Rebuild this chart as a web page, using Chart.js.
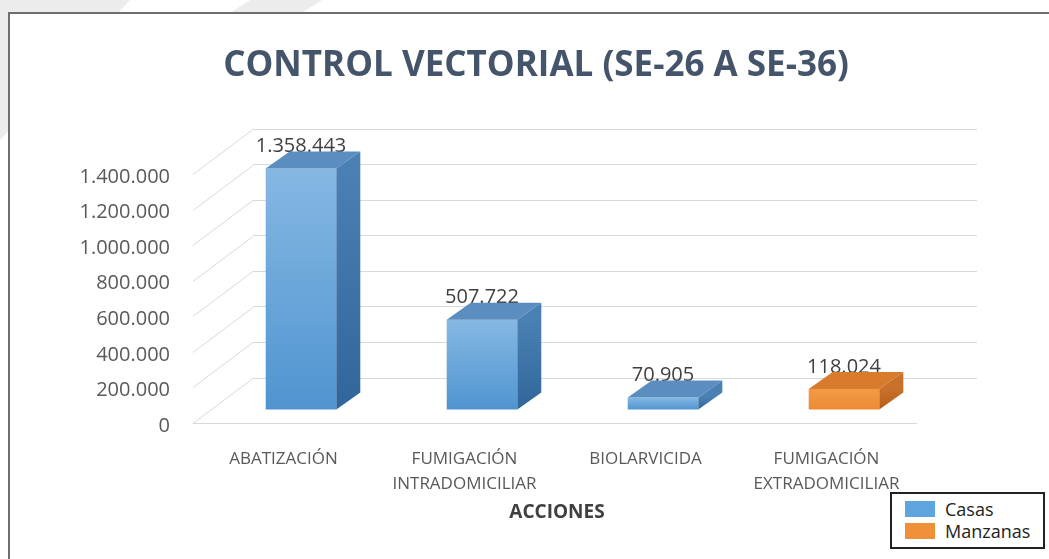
<!DOCTYPE html>
<html>
<head>
<meta charset="utf-8">
<title>Control vectorial</title>
<script src="https://cdn.jsdelivr.net/npm/chart.js@4.4.1/dist/chart.umd.min.js"></script>
<style>
    html, body { margin: 0; padding: 0; background: #fff; }
    body { width: 1049px; height: 559px; position: relative; overflow: hidden; font-family: 'Open Sans', sans-serif; }
    .shade { position: absolute; background: #ececec; }
    #wedge1 { left: 0; top: 0; width: 130px; height: 140px; clip-path: polygon(0 0, 100% 0, 0 100%); }
    #wedge2 { left: 230px; top: 0; width: 92px; height: 13px; clip-path: polygon(22% 0, 100% 0, 78% 100%, 0 100%); }
    #frame { position: absolute; left: 8px; top: 12px; width: 1060px; height: 560px; border-left: 2px solid #6e6e6e; border-top: 2px solid #6e6e6e; background: #fff; }
    #chart { position: absolute; left: 0; top: 0; }
    #legend { position: absolute; left: 890px; top: 492px; width: 151px; height: 53px; border: 2px solid #222; background: #fff; color: #222; font-size: 18px; }
    #legend .item { position: absolute; left: 13px; height: 22px; display: flex; align-items: center; }
    #legend .swatch { width: 30px; height: 16px; margin-right: 10px; }
</style>
</head>
<body>
<div class="shade" id="wedge1"></div>
<div class="shade" id="wedge2"></div>
<div id="frame"></div>
<canvas id="chart" width="1049" height="559"></canvas>
<div id="legend"></div>

<script>
// ===== Data =====
const categories = [
    ['ABATIZACIÓN'],
    ['FUMIGACIÓN', 'INTRADOMICILIAR'],
    ['BIOLARVICIDA'],
    ['FUMIGACIÓN', 'EXTRADOMICILIAR']
];
const casasValues = [1358443, 507722, 70905, null];
const manzanasValues = [null, null, null, 118024];
const yMax = 1400000;
const yStep = 200000;

// ===== Look =====
const casasLook = { light: '#86b8e3', dark: '#4f94d0', side: ['#4a80b3', '#306699'], top: '#5b8dc1', legend: '#5ea5df' };
const manzanasLook = { light: '#f39a46', dark: '#ec8a32', side: ['#c9702a', '#b45f1c'], top: '#d97b2c', legend: '#f0913a' };

// perspective offsets
const WALL_DX = -60, WALL_DY = 45;     // back wall -> front edge of floor
const FRONT_DX = -42.5, FRONT_DY = 32; // back wall -> bar front faces
const BOX_DX = 24, BOX_DY = -17;       // bar depth

Chart.defaults.font.family = "'Open Sans', sans-serif";

function fmt(v) {
    return String(v).replace(/\B(?=(\d{3})+(?!\d))/g, '.');
}

function frontFill(look) {
    return (c) => {
        const chart = c.chart;
        if (!chart.chartArea || c.raw == null) return look.dark;
        const y = chart.scales.y;
        const g = chart.ctx.createLinearGradient(0, y.getPixelForValue(c.raw), 0, y.getPixelForValue(0));
        g.addColorStop(0, look.light);
        g.addColorStop(1, look.dark);
        return g;
    };
}

// ===== 3D walls, bar faces and labels =====
const box3d = {
    id: 'box3d',
    beforeDatasetsDraw(chart) {
        const { ctx, chartArea: a, scales: { y } } = chart;
        ctx.save();
        ctx.strokeStyle = '#d9d9d9';
        ctx.lineWidth = 1;
        y.ticks.forEach(t => {
            const py = Math.round(y.getPixelForValue(t.value)) + 0.5;
            ctx.beginPath();
            ctx.moveTo(a.left, py);
            ctx.lineTo(a.left + WALL_DX, py + WALL_DY);
            ctx.stroke();
        });
        const yf = Math.round(y.getPixelForValue(0)) + 0.5 + WALL_DY;
        ctx.beginPath();
        ctx.moveTo(a.left + WALL_DX, yf);
        ctx.lineTo(a.right + WALL_DX, yf);
        ctx.stroke();
        ctx.restore();

        ctx.save();
        ctx.translate(FRONT_DX, FRONT_DY);
    },
    afterDatasetsDraw(chart) {
        const ctx = chart.ctx;
        const looks = [casasLook, manzanasLook];

        // value labels (partly hidden by the top faces)
        ctx.font = "20px 'Open Sans'";
        ctx.fillStyle = '#404040';
        ctx.textAlign = 'center';
        ctx.textBaseline = 'middle';
        chart.data.datasets.forEach((ds, di) => {
            chart.getDatasetMeta(di).data.forEach((bar, i) => {
                if (ds.data[i] == null) return;
                ctx.fillText(fmt(ds.data[i]), bar.x, bar.y - 22);
            });
        });

        chart.data.datasets.forEach((ds, di) => {
            const look = looks[di];
            chart.getDatasetMeta(di).data.forEach((bar, i) => {
                if (ds.data[i] == null) return;
                const L = bar.x - bar.width / 2, R = bar.x + bar.width / 2;
                const T = bar.y, B = bar.base;
                // top
                ctx.fillStyle = look.top;
                ctx.beginPath();
                ctx.moveTo(L, T);
                ctx.lineTo(R, T);
                ctx.lineTo(R + BOX_DX, T + BOX_DY);
                ctx.lineTo(L + BOX_DX, T + BOX_DY);
                ctx.closePath();
                ctx.fill();
                // side
                const g = ctx.createLinearGradient(0, T, 0, B);
                g.addColorStop(0, look.side[0]);
                g.addColorStop(1, look.side[1]);
                ctx.fillStyle = g;
                ctx.beginPath();
                ctx.moveTo(R, T);
                ctx.lineTo(R + BOX_DX, T + BOX_DY);
                ctx.lineTo(R + BOX_DX, B + BOX_DY);
                ctx.lineTo(R, B);
                ctx.closePath();
                ctx.fill();
            });
        });
        ctx.restore();

        // axis title, on the front plane
        ctx.save();
        ctx.font = "bold 19px 'Open Sans'";
        ctx.fillStyle = '#404040';
        ctx.textAlign = 'center';
        ctx.textBaseline = 'middle';
        ctx.fillText('ACCIONES', 557, 513);
        ctx.restore();
    }
};

const ctx = document.getElementById('chart').getContext('2d');
const chart = new Chart(ctx, {
    type: 'bar',
    data: {
        labels: categories,
        datasets: [
            {
                label: 'Casas',
                data: casasValues,
                backgroundColor: frontFill(casasLook),
                borderWidth: 0,
                clip: false
            },
            {
                label: 'Manzanas',
                data: manzanasValues,
                backgroundColor: frontFill(manzanasLook),
                borderWidth: 0,
                clip: false
            }
        ]
    },
    options: {
        responsive: false,
        animation: false,
        grouped: false,
        categoryPercentage: 0.39,
        barPercentage: 1,
        layout: { padding: { left: 23, right: 0, top: 0, bottom: 0 } },
        plugins: {
            legend: { display: false },
            tooltip: { enabled: false },
            title: {
                display: true,
                text: 'CONTROL VECTORIAL (SE-26 A SE-36)',
                color: '#44546A',
                font: { size: 35, weight: 'bold' },
                padding: { top: 45, bottom: 42 }
            }
        },
        scales: {
            x: {
                grid: { display: false },
                border: { display: false },
                ticks: {
                    color: '#595959',
                    font: { size: 17, lineHeight: 1.47 },
                    padding: 61,
                    labelOffset: -60,
                    autoSkip: false,
                    maxRotation: 0
                },
                afterFit(scale) { scale.height = 181; }
            },
            y: {
                min: 0,
                max: yMax,
                grid: { color: '#d9d9d9', drawTicks: false },
                border: { display: false },
                ticks: {
                    stepSize: yStep,
                    color: '#595959',
                    font: { size: 20 },
                    padding: 83,
                    labelOffset: 48,
                    callback: (v) => fmt(v)
                },
                afterFit(scale) { scale.width = 230; }
            },
            // empty right gutter so the chart ends where the back wall ends
            gutter: {
                position: 'right',
                grid: { display: false },
                border: { display: false },
                ticks: { display: false },
                afterFit(scale) { scale.width = 72; }
            }
        }
    },
    plugins: [box3d]
});

// ===== Legend =====
const legendEl = document.getElementById('legend');
const legendColors = [casasLook.legend, manzanasLook.legend];
chart.data.datasets.forEach((ds, i) => {
    const item = document.createElement('div');
    item.className = 'item';
    item.style.top = (4 + i * 22) + 'px';
    const sw = document.createElement('span');
    sw.className = 'swatch';
    sw.style.background = legendColors[i];
    const tx = document.createElement('span');
    tx.textContent = ds.label;
    item.appendChild(sw);
    item.appendChild(tx);
    legendEl.appendChild(item);
});
</script>
</body>
</html>
